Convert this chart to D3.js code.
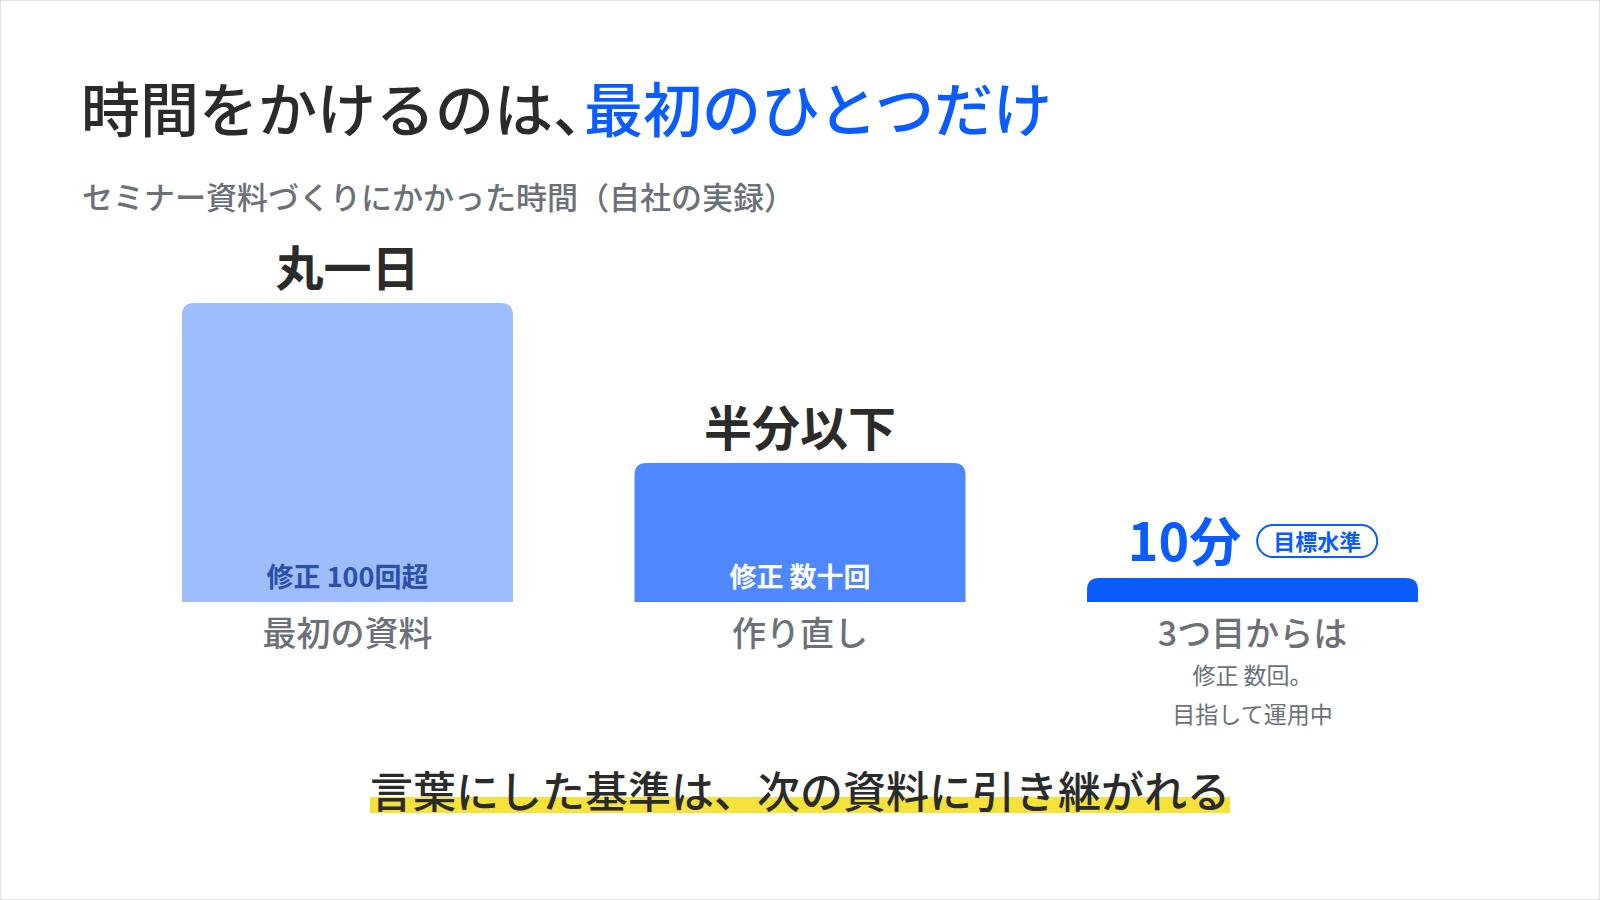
<!DOCTYPE html>
<html><head><meta charset="utf-8">
<script src="https://cdn.jsdelivr.net/npm/d3@7"></script>
<style>
html,body{margin:0;padding:0;background:#fff;}
svg{display:block;font-family:"Noto Sans CJK JP","Noto Sans",sans-serif;}
</style></head>
<body>
<script>
const categories = ["最初の資料", "作り直し", "3つ目からは"];
const values = [100, 46.5, 8];            // relative time (丸一日 = 100)
const valueLabels = ["丸一日", "半分以下", "10分"];
const innerLabels = ["修正 100回超", "修正 数十回", ""];
const subLabels = [[], [], ["修正 数回。", "目指して運用中"]];
const badgeLabel = "目標水準";
const titleParts = ["時間をかけるのは、", "最初のひとつだけ"];
const subtitle = "セミナー資料づくりにかかった時間（自社の実録）";
const footer = "言葉にした基準は、次の資料に引き継がれる";

const W = 1600, H = 900;
const barColors = ["#9dbdfd", "#4f87ff", "#0a5cff"];
const innerColors = ["#2c50a8", "#ffffff", "#ffffff"];
const blue = "#0a5cff", dark = "#2b2b2b", gray = "#6b7079";

const svg = d3.select("body").append("svg").attr("width", W).attr("height", H);
svg.append("rect").attr("x", 0.5).attr("y", 0.5).attr("width", W - 1).attr("height", H - 1)
  .attr("fill", "#fff").attr("stroke", "#e2e2e2");

// Title
const t = svg.append("text").attr("x", 81).attr("y", 132)
  .attr("font-size", 59).attr("font-weight", 500);
t.append("tspan").attr("fill", dark).text(titleParts[0]);
t.append("tspan").attr("fill", blue).attr("dx", -28).text(titleParts[1]);

svg.append("text").attr("x", 82).attr("y", 209).attr("font-size", 31)
  .attr("font-weight", 500).attr("fill", gray).text(subtitle);

// Scales
const x = d3.scaleBand().domain(categories).range([182, 1418]).paddingInner(0.2685).paddingOuter(0);
const y = d3.scaleLinear().domain([0, 100]).range([602, 303]);
const r = 12;

function barPath(x0, y0, w, h) {
  const rr = Math.min(r, h, w / 2);
  return `M${x0},${y0 + h}V${y0 + rr}Q${x0},${y0} ${x0 + rr},${y0}H${x0 + w - rr}Q${x0 + w},${y0} ${x0 + w},${y0 + rr}V${y0 + h}Z`;
}

const g = svg.append("g");
categories.forEach((c, i) => {
  const bx = x(c), bw = x.bandwidth(), by = y(values[i]), bh = y(0) - y(values[i]);
  const cx = bx + bw / 2;
  g.append("path").attr("d", barPath(bx, by, bw, bh)).attr("fill", barColors[i]);

  if (innerLabels[i]) {
    g.append("text").attr("x", cx).attr("y", y(0) - 15).attr("text-anchor", "middle")
      .attr("font-size", 27).attr("font-weight", 700).attr("fill", innerColors[i]).text(innerLabels[i]);
  }

  if (i < 2) {
    g.append("text").attr("x", cx).attr("y", by - 17).attr("text-anchor", "middle")
      .attr("font-size", 48).attr("font-weight", 700).attr("fill", dark).text(valueLabels[i]);
  } else {
    const grp = g.append("g");
    const vt = grp.append("text").attr("x", 0).attr("y", by - 17)
      .attr("font-size", 52).attr("font-weight", 700).attr("fill", blue).text(valueLabels[i]);
    const vw = vt.node().getComputedTextLength();
    const padX = 16, bhgt = 32, gap = 16;
    const bx0 = vw + gap;
    const pill = grp.append("rect");
    const bt = grp.append("text").attr("y", by - 28)
      .attr("font-size", 22).attr("font-weight", 700).attr("fill", blue).text(badgeLabel);
    const tw = bt.node().getComputedTextLength();
    pill.attr("x", bx0).attr("y", by - 53)
      .attr("width", tw + padX * 2).attr("height", bhgt).attr("rx", bhgt / 2)
      .attr("fill", "#fff").attr("stroke", blue).attr("stroke-width", 2);
    bt.attr("x", bx0 + padX);
    const total = bx0 + tw + padX * 2;
    grp.attr("transform", `translate(${cx - total / 2},0)`);
  }

  g.append("text").attr("x", cx).attr("y", 646).attr("text-anchor", "middle")
    .attr("font-size", 34).attr("font-weight", 500).attr("fill", gray).text(c);

  subLabels[i].forEach((s, j) => {
    g.append("text").attr("x", cx).attr("y", 684 + j * 39).attr("text-anchor", "middle")
      .attr("font-size", 23).attr("font-weight", 400).attr("fill", gray).text(s);
  });
});

// Footer with highlight
const hl = svg.append("rect");
const ft = svg.append("text").attr("x", W / 2).attr("y", 808).attr("text-anchor", "middle")
  .attr("font-size", 43).attr("font-weight", 500).attr("fill", dark).text(footer);
const fw = ft.node().getComputedTextLength();
hl.attr("x", W / 2 - fw / 2).attr("y", 797)
  .attr("width", fw).attr("height", 16).attr("fill", "#f5e23a");
</script>
</body></html>
